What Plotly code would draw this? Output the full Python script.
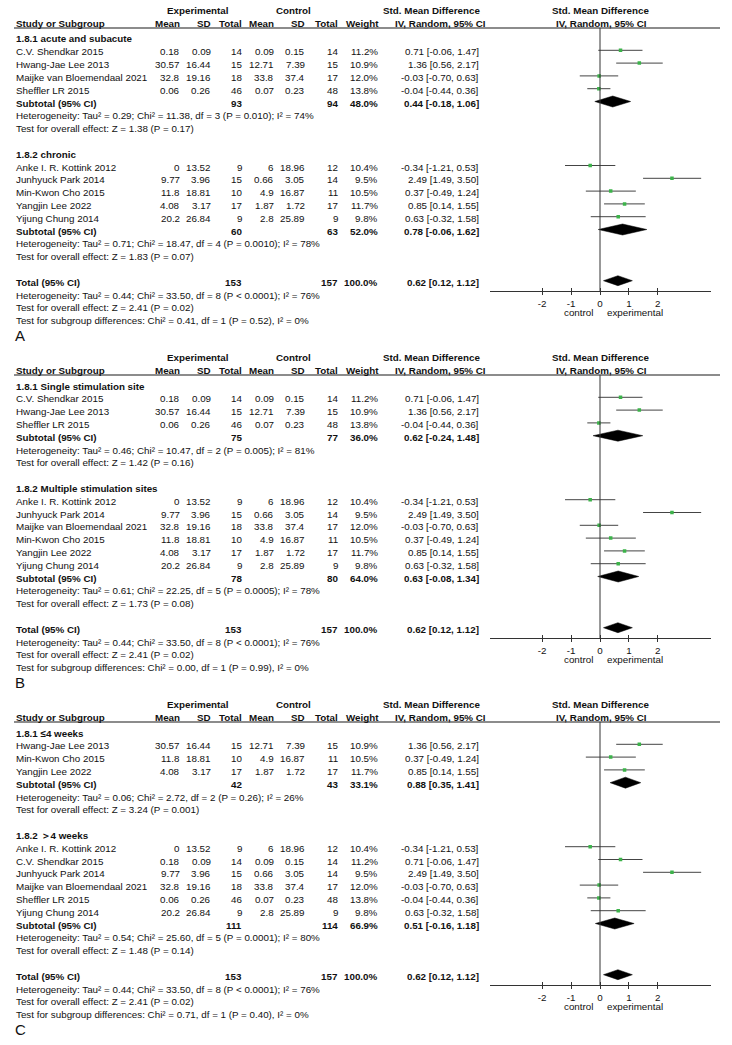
import plotly.graph_objects as go

# ---------------- data ----------------
studies = ["C.V. Shendkar 2015", "Hwang-Jae Lee 2013", "Maijke van Bloemendaal 2021",
           "Sheffler LR 2015", "Anke I. R. Kottink 2012", "Junhyuck Park 2014",
           "Min-Kwon Cho 2015", "Yangjin Lee 2022", "Yijung Chung 2014"]
exp_mean = [0.18, 30.57, 32.8, 0.06, 0, 9.77, 11.8, 4.08, 20.2]
exp_sd = [0.09, 16.44, 19.16, 0.26, 13.52, 3.96, 18.81, 3.17, 26.84]
exp_n = [14, 15, 18, 46, 9, 15, 10, 17, 9]
ctl_mean = [0.09, 12.71, 33.8, 0.07, 6, 0.66, 4.9, 1.87, 2.8]
ctl_sd = [0.15, 7.39, 37.4, 0.23, 18.96, 3.05, 16.87, 1.72, 25.89]
ctl_n = [14, 15, 17, 48, 12, 14, 11, 17, 9]
weight = [11.2, 10.9, 12.0, 13.8, 10.4, 9.5, 10.5, 11.7, 9.8]
smd = [0.71, 1.36, -0.03, -0.04, -0.34, 2.49, 0.37, 0.85, 0.63]
smd_lo = [-0.06, 0.56, -0.70, -0.44, -1.21, 1.49, -0.49, 0.14, -0.32]
smd_hi = [1.47, 2.17, 0.63, 0.36, 0.53, 3.50, 1.24, 1.55, 1.58]

panel_letters = ["A", "B", "C"]
group_titles = [["1.8.1 acute and subacute", "1.8.2 chronic"],
                ["1.8.1 Single stimulation site", "1.8.2 Multiple stimulation sites"],
                ["1.8.1 ≤4 weeks", "1.8.2 ＞4 weeks"]]
group_members = [
    [["C.V. Shendkar 2015", "Hwang-Jae Lee 2013", "Maijke van Bloemendaal 2021", "Sheffler LR 2015"],
     ["Anke I. R. Kottink 2012", "Junhyuck Park 2014", "Min-Kwon Cho 2015", "Yangjin Lee 2022",
      "Yijung Chung 2014"]],
    [["C.V. Shendkar 2015", "Hwang-Jae Lee 2013", "Sheffler LR 2015"],
     ["Anke I. R. Kottink 2012", "Junhyuck Park 2014", "Maijke van Bloemendaal 2021",
      "Min-Kwon Cho 2015", "Yangjin Lee 2022", "Yijung Chung 2014"]],
    [["Hwang-Jae Lee 2013", "Min-Kwon Cho 2015", "Yangjin Lee 2022"],
     ["Anke I. R. Kottink 2012", "C.V. Shendkar 2015", "Junhyuck Park 2014",
      "Maijke van Bloemendaal 2021", "Sheffler LR 2015", "Yijung Chung 2014"]],
]
sub_exp_n = [[93, 60], [75, 78], [42, 111]]
sub_ctl_n = [[94, 63], [77, 80], [43, 114]]
sub_weight = [[48.0, 52.0], [36.0, 64.0], [33.1, 66.9]]
sub_smd = [[0.44, 0.78], [0.62, 0.63], [0.88, 0.51]]
sub_lo = [[-0.18, -0.06], [-0.24, -0.08], [0.35, -0.16]]
sub_hi = [[1.06, 1.62], [1.48, 1.34], [1.41, 1.18]]
sub_het = [["Tau² = 0.29; Chi² = 11.38, df = 3 (P = 0.010); I² = 74%",
            "Tau² = 0.71; Chi² = 18.47, df = 4 (P = 0.0010); I² = 78%"],
           ["Tau² = 0.46; Chi² = 10.47, df = 2 (P = 0.005); I² = 81%",
            "Tau² = 0.61; Chi² = 22.25, df = 5 (P = 0.0005); I² = 78%"],
           ["Tau² = 0.06; Chi² = 2.72, df = 2 (P = 0.26); I² = 26%",
            "Tau² = 0.54; Chi² = 25.60, df = 5 (P = 0.0001); I² = 80%"]]
sub_z = [["Z = 1.38 (P = 0.17)", "Z = 1.83 (P = 0.07)"],
         ["Z = 1.42 (P = 0.16)", "Z = 1.73 (P = 0.08)"],
         ["Z = 3.24 (P = 0.001)", "Z = 1.48 (P = 0.14)"]]
total_exp_n = 153
total_ctl_n = 157
total_weight = 100.0
total_smd = 0.62
total_lo = 0.12
total_hi = 1.12
total_het = "Tau² = 0.44; Chi² = 33.50, df = 8 (P &lt; 0.0001); I² = 76%"
total_z = "Z = 2.41 (P = 0.02)"
subgroup_diff = ["Chi² = 0.41, df = 1 (P = 0.52), I² = 0%",
                 "Chi² = 0.00, df = 1 (P = 0.99), I² = 0%",
                 "Chi² = 0.71, df = 1 (P = 0.40), I² = 0%"]
tick_vals = [-2, -1, 0, 1, 2]
tick_text = ["-2", "-1", "0", "1", "2"]
axis_side_labels = ["control", "experimental"]

# ---------------- layout constants ----------------
W, H = 732, 1045
FONT = "Liberation Sans, Arial, sans-serif"
FS = 9.8
TXT = "#111111"
ROW = 12.8
LINEC = "#333333"
SQC = "#3cb34a"

annotations = []
shapes = []
traces = []
layout_axes = {}


def ann(x, px, text, anchor="left", bold=False, size=FS):
    annotations.append(dict(
        x=x / W, y=1 - px / H, xref="paper", yref="paper",
        text=f"<b>{text}</b>" if bold else text,
        xanchor=anchor, yanchor="middle", showarrow=False,
        font=dict(family=FONT, size=size, color=TXT)))


def fmt_ci(e, lo, hi):
    return f"{e:.2f} [{lo:.2f}, {hi:.2f}]"


for p in range(3):
    base = 37.5 + 347 * p
    n = p + 1
    xa = "x" if n == 1 else f"x{n}"
    ya = "y" if n == 1 else f"y{n}"
    cols = dict(me=181.5, se=213, ne=244, mc=276, sc=307, nc=340, w=380, ci=481)

    # headers
    h1 = base - 27.5
    h2 = base - 14
    ann(197.5, h1, "Experimental", "center", True)
    ann(293, h1, "Control", "center", True)
    ann(431, h1, "Std. Mean Difference", "center", True)
    ann(600, h1, "Std. Mean Difference", "center", True)
    ann(14, h2, "Study or Subgroup", "left", True)
    ann(cols["me"], h2, "Mean", "right", True)
    ann(cols["se"], h2, "SD", "right", True)
    ann(cols["ne"], h2, "Total", "right", True)
    ann(cols["mc"], h2, "Mean", "right", True)
    ann(cols["sc"], h2, "SD", "right", True)
    ann(cols["nc"], h2, "Total", "right", True)
    ann(cols["w"] + 1, h2, "Weight", "right", True)
    ann(441, h2, "IV, Random, 95% CI", "center", True)
    ann(601.5, h2, "IV, Random, 95% CI", "center", True)
    shapes.append(dict(type="line", xref="paper", yref="paper",
                       x0=14 / W, x1=720 / W, y0=1 - (base - 9.5) / H, y1=1 - (base - 9.5) / H,
                       line=dict(color="#666666", width=1.5)))

    r = 0
    ci_x, ci_y, sq_x, sq_y = [], [], [], []
    diamonds = []
    for g in range(2):
        ann(14, base + r * ROW + 1.5, group_titles[p][g], "left", True)
        r += 1
        for name in group_members[p][g]:
            i = studies.index(name)
            t = base + r * ROW + 1.5
            ann(14, t, name)
            ann(cols["me"], t, str(exp_mean[i]), "right")
            ann(cols["se"], t, str(exp_sd[i]), "right")
            ann(cols["ne"], t, str(exp_n[i]), "right")
            ann(cols["mc"], t, str(ctl_mean[i]), "right")
            ann(cols["sc"], t, str(ctl_sd[i]), "right")
            ann(cols["nc"], t, str(ctl_n[i]), "right")
            ann(cols["w"], t, f"{weight[i]:.1f}%", "right")
            ann(cols["ci"], t, fmt_ci(smd[i], smd_lo[i], smd_hi[i]), "right")
            ci_x += [smd_lo[i], smd_hi[i], None]
            ci_y += [r, r, None]
            sq_x.append(smd[i])
            sq_y.append(r)
            r += 1
        t = base + r * ROW + 1.5
        ann(14, t, "Subtotal (95% CI)", "left", True)
        ann(cols["ne"], t, str(sub_exp_n[p][g]), "right", True)
        ann(cols["nc"], t, str(sub_ctl_n[p][g]), "right", True)
        ann(cols["w"], t, f"{sub_weight[p][g]:.1f}%", "right", True)
        ann(cols["ci"], t, fmt_ci(sub_smd[p][g], sub_lo[p][g], sub_hi[p][g]), "right", True)
        diamonds.append((sub_lo[p][g], sub_smd[p][g], sub_hi[p][g], r, 0.43))
        r += 1
        ann(14, base + r * ROW + 1.5, "Heterogeneity: " + sub_het[p][g])
        r += 1
        ann(14, base + r * ROW + 1.5, "Test for overall effect: " + sub_z[p][g])
        r += 2

    total_row = r
    t = base + r * ROW + 1.5
    ann(14, t, "Total (95% CI)", "left", True)
    ann(cols["ne"], t, str(total_exp_n), "right", True)
    ann(cols["nc"], t, str(total_ctl_n), "right", True)
    ann(cols["w"], t, f"{total_weight:.1f}%", "right", True)
    ann(cols["ci"], t, fmt_ci(total_smd, total_lo, total_hi), "right", True)
    diamonds.append((total_lo, total_smd, total_hi, r, 0.39))
    ann(14, base + (r + 1) * ROW + 1.5, "Heterogeneity: " + total_het)
    ann(14, base + (r + 2) * ROW + 1.5, "Test for overall effect: " + total_z)
    ann(14, base + (r + 3) * ROW + 1.5, "Test for subgroup differences: " + subgroup_diff[p])
    ann(13, base + (r + 4.3) * ROW, panel_letters[p], "left", False, 15)

    axis_row = total_row + 0.8
    axis_px = base + axis_row * ROW
    ann(595, axis_px + 22, axis_side_labels[0], "right")
    ann(605, axis_px + 22, axis_side_labels[1], "left")

    # traces
    traces.append(go.Scatter(x=ci_x, y=ci_y, mode="lines", xaxis=xa, yaxis=ya,
                             line=dict(color="#444444", width=1), hoverinfo="skip"))
    for lo, e, hi, rr, hh in diamonds:
        traces.append(go.Scatter(x=[lo, e, hi, e, lo], y=[rr, rr - hh, rr, rr + hh, rr],
                                 mode="lines", fill="toself", fillcolor="black",
                                 line=dict(color="black", width=0.5),
                                 xaxis=xa, yaxis=ya, hoverinfo="skip"))
    traces.append(go.Scatter(x=sq_x, y=sq_y, mode="markers", xaxis=xa, yaxis=ya,
                             marker=dict(symbol="square", size=3.5, color=SQC, line=dict(width=0)),
                             hoverinfo="skip"))
    ov = f"x{n + 3}"
    traces.append(go.Scatter(x=[None], y=[None], xaxis=ov, yaxis=ya, showlegend=False))

    # zero line
    shapes.append(dict(type="line", xref=xa, yref=ya, x0=0, x1=0, y0=-9.5 / ROW, y1=axis_row,
                       line=dict(color=LINEC, width=1)))

    dom_x = [490 / W, 710.7 / W]
    xr = [-3.806, 3.83]
    top_px = base - 37.5
    key_x = "xaxis" if n == 1 else f"xaxis{n}"
    key_y = "yaxis" if n == 1 else f"yaxis{n}"
    layout_axes[key_x] = dict(domain=dom_x, range=xr, anchor=ya, tickvals=tick_vals,
                              ticktext=tick_text, ticks="outside", ticklen=3, tickcolor=LINEC,
                              tickwidth=1, showline=True, linecolor=LINEC, linewidth=1,
                              showgrid=False, zeroline=False, fixedrange=True,
                              tickfont=dict(family=FONT, size=FS, color=TXT))
    layout_axes[f"xaxis{n + 3}"] = dict(domain=dom_x, range=xr, anchor=ya, overlaying=xa,
                                        tickvals=tick_vals, ticks="inside", ticklen=3,
                                        tickcolor=LINEC, tickwidth=1, showticklabels=False,
                                        showline=False, showgrid=False, zeroline=False)
    layout_axes[key_y] = dict(domain=[1 - axis_px / H, 1 - top_px / H],
                              range=[axis_row, -37.5 / ROW], visible=False,
                              showgrid=False, zeroline=False)

fig = go.Figure(data=traces)
fig.update_layout(width=W, height=H, margin=dict(l=0, r=0, t=0, b=0),
                  paper_bgcolor="white", plot_bgcolor="white", showlegend=False,
                  hovermode=False,
                  annotations=annotations, shapes=shapes, **layout_axes)
fig.write_html("out.html", config={"displayModeBar": False, "staticPlot": True},
               post_script="document.body.style.margin='0';document.body.style.overflow='hidden';")
